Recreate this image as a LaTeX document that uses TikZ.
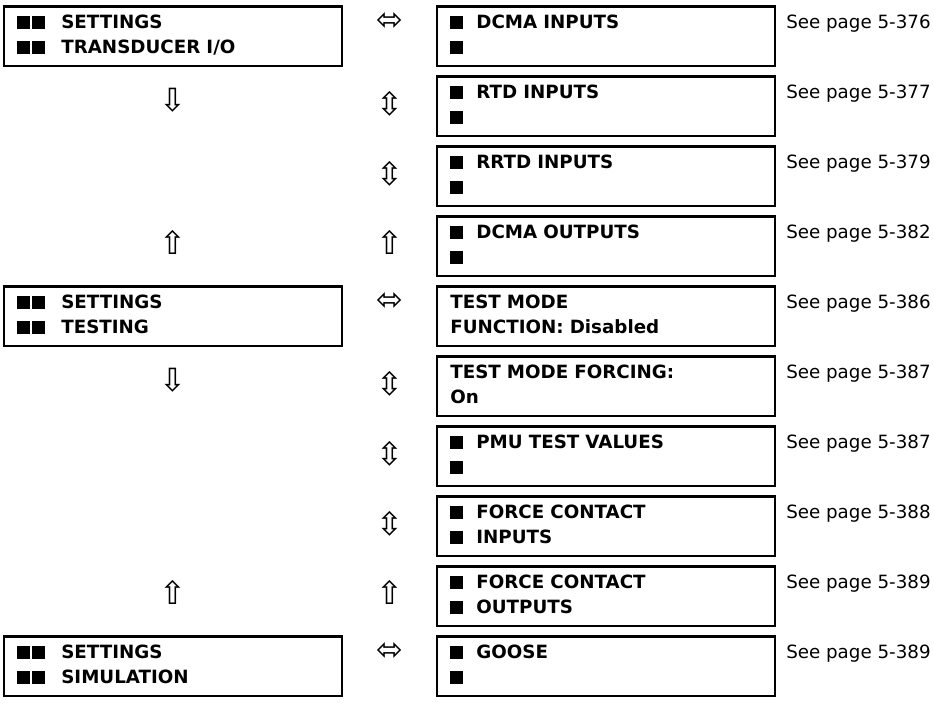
\documentclass[tikz,border=0pt]{standalone}
\usepackage{fontspec}
\setmainfont{DejaVu Sans}
\newfontfamily\arrowfont{DejaVu Sans}
\usepackage{tikz}
\usetikzlibrary{positioning, calc}
\newcommand{\blk}{\rule{9.5pt}{9.75pt}}
\newcommand{\sqone}{\blk\hspace{10pt}}
\newcommand{\sqtwo}{\blk\hspace{1.5pt}\blk\hspace{12.5pt}}
\tikzset{
  menubox/.style = {rectangle, draw=black, line width=2pt, outer sep=0pt,
                    minimum width=253.5pt, minimum height=44.5pt,
                    text width=233.5pt, inner xsep=10pt, inner ysep=0pt,
                    align=left, font=\fontsize{13.7pt}{18.75pt}\selectfont\bfseries,
                    execute at end node={\rule[-3pt]{0pt}{3pt}}},
  pageref/.style = {anchor=base west, inner sep=0pt,
                    font=\fontsize{13.7pt}{18.75pt}\selectfont},
  navarr/.style  = {inner sep=0pt, font=\arrowfont\fontsize{24pt}{24pt}\selectfont},
}

\begin{document}
\begin{tikzpicture}[node distance=8pt]
  \useasboundingbox (0,0) rectangle (700.5pt,-527.25pt);

  \node[menubox, anchor=north west] (dcmain) at (327.75pt,-5pt) {\sqone DCMA INPUTS\\\sqone};
  \node[menubox, below=of dcmain]  (rtd)     {\sqone RTD INPUTS\\\sqone};
  \node[menubox, below=of rtd]     (rrtd)    {\sqone RRTD INPUTS\\\sqone};
  \node[menubox, below=of rrtd]    (dcmaout) {\sqone DCMA OUTPUTS\\\sqone};
  \node[menubox, below=of dcmaout] (tmfunc)  {TEST MODE\\FUNCTION: Disabled};
  \node[menubox, below=of tmfunc]  (tmforce) {TEST MODE FORCING:\\On};
  \node[menubox, below=of tmforce] (pmu)     {\sqone PMU TEST VALUES\\\sqone};
  \node[menubox, below=of pmu]     (fcin)    {\sqone FORCE CONTACT\\\sqone INPUTS};
  \node[menubox, below=of fcin]    (fcout)   {\sqone FORCE CONTACT\\\sqone OUTPUTS};
  \node[menubox, below=of fcout]   (goose)   {\sqone GOOSE\\\sqone};

  \node[menubox, left=71.25pt of dcmain] (tio) {\sqtwo SETTINGS\\\sqtwo TRANSDUCER I/O};
  \node[menubox, left=71.25pt of tmfunc] (tst) {\sqtwo SETTINGS\\\sqtwo TESTING};
  \node[menubox, left=71.25pt of goose]  (sim) {\sqtwo SETTINGS\\\sqtwo SIMULATION};

  \node[pageref] (p376)  at ([xshift=8.25pt]dcmain.east |- dcmain.text)   {See page 5-376};
  \node[pageref] (p377)  at ([xshift=8.25pt]rtd.east |- rtd.text)         {See page 5-377};
  \node[pageref] (p379)  at ([xshift=8.25pt]rrtd.east |- rrtd.text)       {See page 5-379};
  \node[pageref] (p382)  at ([xshift=8.25pt]dcmaout.east |- dcmaout.text) {See page 5-382};
  \node[pageref] (p386)  at ([xshift=8.25pt]tmfunc.east |- tmfunc.text)   {See page 5-386};
  \node[pageref] (p387a) at ([xshift=8.25pt]tmforce.east |- tmforce.text) {See page 5-387};
  \node[pageref] (p387b) at ([xshift=8.25pt]pmu.east |- pmu.text)         {See page 5-387};
  \node[pageref] (p388)  at ([xshift=8.25pt]fcin.east |- fcin.text)       {See page 5-388};
  \node[pageref] (p389a) at ([xshift=8.25pt]fcout.east |- fcout.text)     {See page 5-389};
  \node[pageref] (p389b) at ([xshift=8.25pt]goose.east |- goose.text)     {See page 5-389};

  \coordinate (mid) at ($(tio.east)!0.5!(dcmain.west)$);

  \node[navarr, yshift=11pt] (lr1) at (mid |- dcmain) {⬄};
  \node[navarr, yshift=11pt] (lr2) at (mid |- tmfunc) {⬄};
  \node[navarr, yshift=11pt] (lr3) at (mid |- goose)  {⬄};

  \node[navarr, yshift=2pt] (ud1) at (mid |- rtd)     {⇳};
  \node[navarr, yshift=2pt] (ud2) at (mid |- rrtd)    {⇳};
  \node[navarr, yshift=2pt] (ud3) at (mid |- tmforce) {⇳};
  \node[navarr, yshift=2pt] (ud4) at (mid |- pmu)     {⇳};
  \node[navarr, yshift=2pt] (ud5) at (mid |- fcin)    {⇳};
  \node[navarr, yshift=3pt] (up1) at (mid |- dcmaout) {⇧};
  \node[navarr, yshift=3pt] (up2) at (mid |- fcout)   {⇧};

  \node[navarr, yshift=4.3pt] (dn1) at (tio |- rtd)     {⇩};
  \node[navarr, yshift=4.3pt] (dn2) at (tst |- tmforce) {⇩};
  \node[navarr, yshift=3pt]   (up3) at (tio |- dcmaout) {⇧};
  \node[navarr, yshift=3pt]   (up4) at (tst |- fcout)   {⇧};
\end{tikzpicture}
\end{document}
